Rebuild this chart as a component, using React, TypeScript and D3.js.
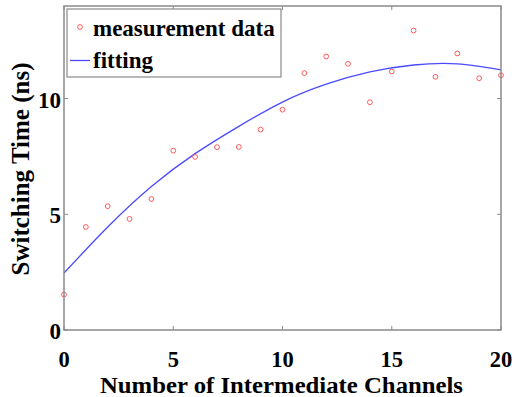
import React from "react";
import * as d3 from "d3";

const channels = [0, 1, 2, 3, 4, 5, 6, 7, 8, 9, 10, 11, 12, 13, 14, 15, 16, 17, 18, 19, 20];
const measured = [1.53, 4.45, 5.35, 4.8, 5.66, 7.75, 7.48, 7.9, 7.91, 8.66, 9.52, 11.1, 11.82, 11.5, 9.84, 11.17, 12.94, 10.94, 11.95, 10.88, 11.01];
const fitX = [0, 2, 4, 6, 8, 10, 12, 14, 16, 18, 20];
const fitY = [2.46, 4.45, 6.2, 7.62, 8.8, 9.85, 10.62, 11.15, 11.45, 11.5, 11.24];
const xTicks = [0, 5, 10, 15, 20];
const yTicks = [0, 5, 10];
const legendLabels = ["measurement data", "fitting"];

const W = 514, H = 397;
const L = 64, R = 501, T = 6, B = 330;
const FONT = "'Liberation Serif', 'Times New Roman', serif";
const RED = "#ff5a5a";
const BLUE = "#4a4aff";
const AXIS = "#8a8a8a";

export default function App() {
  const x = d3.scaleLinear().domain([0, 20]).range([L, R]);
  const y = d3.scaleLinear().domain([0, 14]).range([B, T]);
  const line = d3
    .line<number>()
    .x((_, i) => x(fitX[i]))
    .y((d) => y(d))
    .curve(d3.curveNatural);

  return (
    <svg width={W} height={H} style={{ position: "absolute", left: 0, top: 0, background: "#fff" }}>
      <rect x={0} y={0} width={W} height={H} fill="#fff" />
      {/* fit curve */}
      <path d={line(fitY) || ""} fill="none" stroke={BLUE} strokeWidth={1.3} />
      {/* points */}
      {measured.map((v, i) => (
        <circle key={i} cx={x(channels[i])} cy={y(v)} r={2.4} fill="none" stroke={RED} strokeWidth={1} />
      ))}
      {/* axis box */}
      <rect x={L} y={T} width={R - L} height={B - T} fill="none" stroke={AXIS} strokeWidth={1.5} />
      {xTicks.map((t) => (
        <g key={"x" + t}>
          <line x1={x(t)} x2={x(t)} y1={B} y2={B - 4} stroke={AXIS} strokeWidth={1} />
          <line x1={x(t)} x2={x(t)} y1={T} y2={T + 4} stroke={AXIS} strokeWidth={1} />
          <text x={x(t)} y={366.5} textAnchor="middle" fontFamily={FONT} fontWeight="bold" fontSize={22.5}>
            {t}
          </text>
        </g>
      ))}
      {yTicks.map((t) => (
        <g key={"y" + t}>
          <line x1={L} x2={L + 4} y1={y(t)} y2={y(t)} stroke={AXIS} strokeWidth={1} />
          <line x1={R} x2={R - 4} y1={y(t)} y2={y(t)} stroke={AXIS} strokeWidth={1} />
          <text x={61} y={y(t) + 9} textAnchor="end" fontFamily={FONT} fontWeight="bold" fontSize={23}>
            {t}
          </text>
        </g>
      ))}
      {/* legend */}
      <rect x={67} y={9} width={214} height={68} fill="#fff" stroke={AXIS} strokeWidth={1.2} />
      <circle cx={80} cy={27} r={2.4} fill="none" stroke={RED} strokeWidth={1} />
      <text x={93} y={36} fontFamily={FONT} fontWeight="bold" fontSize={23}>
        {legendLabels[0]}
      </text>
      <line x1={70} x2={90} y1={60.5} y2={60.5} stroke={BLUE} strokeWidth={1.3} />
      <text x={93} y={68} fontFamily={FONT} fontWeight="bold" fontSize={23}>
        {legendLabels[1]}
      </text>
      {/* axis labels */}
      <text
        x={100}
        y={392.5}
        fontFamily={FONT}
        fontWeight="bold"
        fontSize={23}
        textLength={363}
        lengthAdjust="spacingAndGlyphs"
      >
        Number of Intermediate Channels
      </text>
      <text
        transform={`translate(29,169) rotate(-90)`}
        textAnchor="middle"
        fontFamily={FONT}
        fontWeight="bold"
        fontSize={25}
      >
        Switching Time (ns)
      </text>
    </svg>
  );
}
